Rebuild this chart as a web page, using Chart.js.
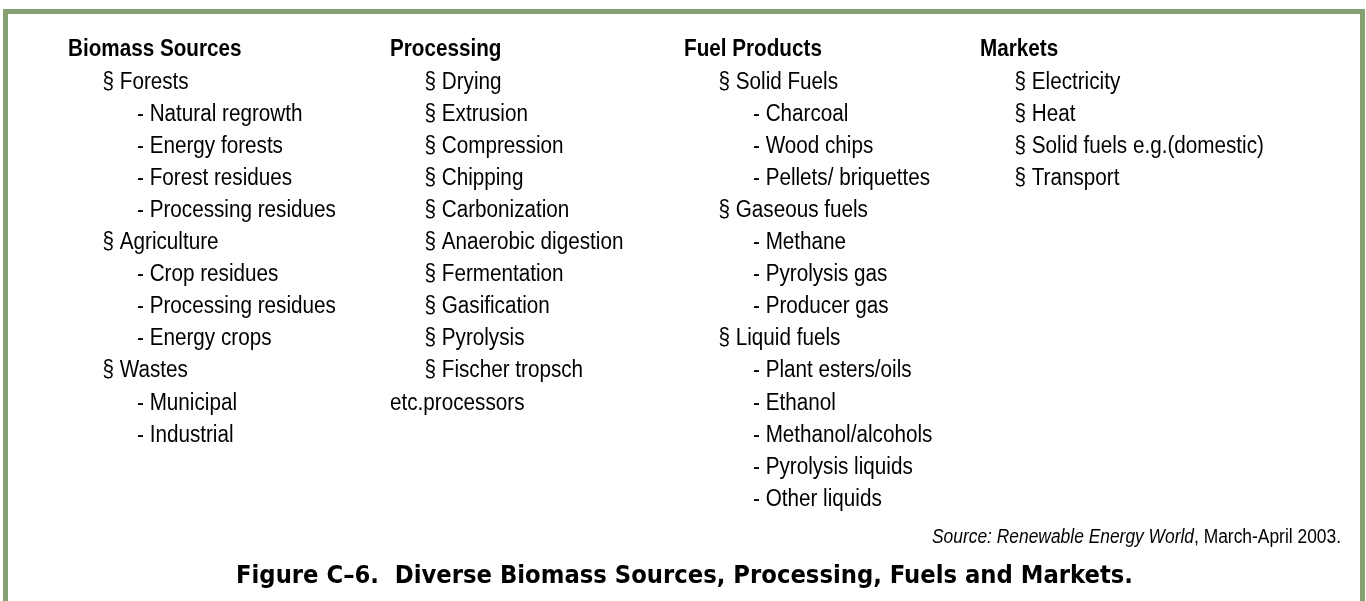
<!DOCTYPE html>
<html>
<head>
<meta charset="utf-8">
<title>Figure C-6</title>
<script src="https://cdn.jsdelivr.net/npm/chart.js@4.4.1/dist/chart.umd.min.js"></script>
<style>
  html, body { margin: 0; padding: 0; background: #fff; overflow: hidden; }
  #figure { display: block; }
</style>
</head>
<body>
<canvas id="figure" width="1366" height="601"></canvas>
<script>
// Column headers and their entries ('§' = first level, '-' = second level)
const headers = ['Biomass Sources', 'Processing', 'Fuel Products', 'Markets'];

const biomassSources = [
  '§ Forests',
  '- Natural regrowth',
  '- Energy forests',
  '- Forest residues',
  '- Processing residues',
  '§ Agriculture',
  '- Crop residues',
  '- Processing residues',
  '- Energy crops',
  '§ Wastes',
  '- Municipal',
  '- Industrial'
];

const processing = [
  '§ Drying',
  '§ Extrusion',
  '§ Compression',
  '§ Chipping',
  '§ Carbonization',
  '§ Anaerobic digestion',
  '§ Fermentation',
  '§ Gasification',
  '§ Pyrolysis',
  '§ Fischer tropsch',
  'etc.processors'
];

const fuelProducts = [
  '§ Solid Fuels',
  '- Charcoal',
  '- Wood chips',
  '- Pellets/ briquettes',
  '§ Gaseous fuels',
  '- Methane',
  '- Pyrolysis gas',
  '- Producer gas',
  '§ Liquid fuels',
  '- Plant esters/oils',
  '- Ethanol',
  '- Methanol/alcohols',
  '- Pyrolysis liquids',
  '- Other liquids'
];

const markets = [
  '§ Electricity',
  '§ Heat',
  '§ Solid fuels e.g.(domestic)',
  '§ Transport'
];

const columns = [biomassSources, processing, fuelProducts, markets];

const sourceItalic = 'Source: Renewable Energy World';
const sourcePlain = ', March-April 2003.';
const figureTitle = 'Figure C\u20136.  Diverse Biomass Sources, Processing, Fuels and Markets.';

// Layout
const columnLeft = [68, 390, 684, 980];
const indentStep = 34.5;
const frameColor = '#87a072';
const textFont = '"Liberation Sans", Arial, sans-serif';
const textSize = 23.5;
const textSqueeze = 0.88;

function levelOf(text) {
  if (text.startsWith('§')) return 1;
  if (text.startsWith('-')) return 2;
  return 0;
}

// one dataset per column, header is row 0
const datasets = columns.map((items, c) => {
  const rows = [headers[c]].concat(items);
  return {
    label: headers[c],
    texts: rows,
    data: rows.map((t, i) => ({ x: columnLeft[c] + (i === 0 ? 0 : levelOf(t) * indentStep), y: i })),
    pointRadius: 0,
    pointHoverRadius: 0
  };
});

function drawScaled(ctx, text, x, y, sx) {
  ctx.save();
  ctx.translate(x, y);
  ctx.scale(sx, 1);
  ctx.fillText(text, 0, 0);
  ctx.restore();
}

const outlinePlugin = {
  id: 'outline',
  beforeDraw(chart) {
    const ctx = chart.ctx;
    ctx.save();
    ctx.fillStyle = '#ffffff';
    ctx.fillRect(0, 0, chart.width, chart.height);
    ctx.fillStyle = frameColor;
    ctx.fillRect(3, 9, 1362, 5);
    ctx.fillRect(3, 9, 5, chart.height - 9);
    ctx.fillRect(1360, 9, 5, chart.height - 9);
    ctx.restore();
  }
};

const textPlugin = {
  id: 'listText',
  afterDatasetsDraw(chart) {
    const ctx = chart.ctx;
    ctx.save();
    ctx.fillStyle = '#000';
    ctx.textBaseline = 'middle';
    ctx.textAlign = 'left';
    chart.data.datasets.forEach((ds, d) => {
      const meta = chart.getDatasetMeta(d);
      meta.data.forEach((pt, i) => {
        ctx.font = (i === 0 ? 'bold ' : '') + textSize + 'px ' + textFont;
        drawScaled(ctx, ds.texts[i], pt.x, pt.y, textSqueeze);
      });
    });

    // source note, right aligned
    const yScale = chart.scales.y;
    const sy = yScale.getPixelForValue(15.2);
    ctx.font = 'italic 20px ' + textFont;
    const w1 = ctx.measureText(sourceItalic).width;
    ctx.font = '20px ' + textFont;
    const w2 = ctx.measureText(sourcePlain).width;
    const sx = 409 / (w1 + w2);
    const right = 1341;
    const left = right - (w1 + w2) * sx;
    ctx.font = 'italic 20px ' + textFont;
    drawScaled(ctx, sourceItalic, left, sy, sx);
    ctx.font = '20px ' + textFont;
    drawScaled(ctx, sourcePlain, left + w1 * sx, sy, sx);

    // figure caption
    const ty = yScale.getPixelForValue(16.4);
    ctx.font = 'bold 24px "DejaVu Sans Condensed", "DejaVu Sans", sans-serif';
    const tw = ctx.measureText(figureTitle).width;
    const tsx = 897 / tw;
    drawScaled(ctx, figureTitle, 684.5 - tw * tsx / 2, ty, tsx);
    ctx.restore();
  }
};

new Chart(document.getElementById('figure'), {
  type: 'scatter',
  data: { datasets: datasets },
  options: {
    responsive: false,
    animation: false,
    events: [],
    layout: { padding: 0 },
    scales: {
      x: { type: 'linear', min: 0, max: 1366, display: false },
      y: { type: 'linear', reverse: true, min: -1.558, max: 17.165, display: false }
    },
    plugins: {
      legend: { display: false },
      tooltip: { enabled: false },
      title: { display: false }
    }
  },
  plugins: [outlinePlugin, textPlugin]
});
</script>
</body>
</html>
